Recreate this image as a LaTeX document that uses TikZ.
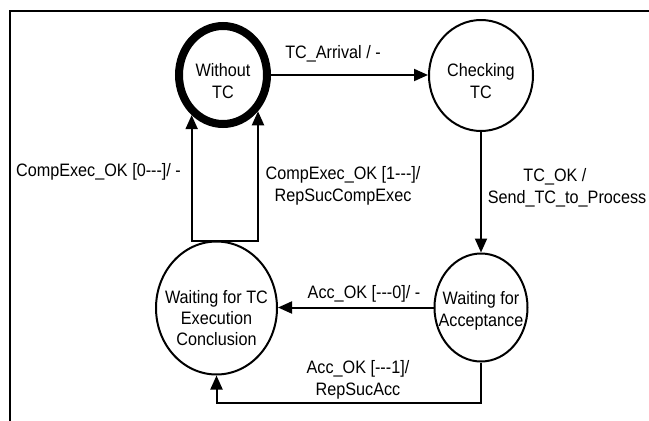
\documentclass[tikz,border=0pt]{standalone}
\usepackage{fontspec}
\setmainfont{Liberation Sans}[FakeStretch=0.9]
\usetikzlibrary{shapes.geometric,arrows.meta}
\begin{document}
\begin{tikzpicture}[x=1pt,y=-1pt,
  txt/.style={font=\fontsize{18}{22}\selectfont, align=center, inner sep=0pt},
  state/.style={ellipse, draw, line width=2pt, inner sep=0pt},
  arr/.style={line width=2pt, -{Triangle[length=14pt,width=12pt]}},
]
\useasboundingbox (0,0) rectangle (649,421);
% frame
\draw[line width=2.5pt] (10,421) -- (10,11) -- (649,11);
% states
\node[state, line width=8pt, minimum width=88pt, minimum height=98pt,
      label={[txt,yshift=-6pt]center:Without\\TC}] (wo) at (223,75) {};
\node[state, minimum width=104pt, minimum height=111pt,
      label={[txt,yshift=-6pt]center:Checking\\TC}] (ck) at (481,75.5) {};
\node[state, minimum width=93pt, minimum height=108pt,
      label={[txt,yshift=-3pt]center:Waiting for\\Acceptance}] (wa) at (481,307.5) {};
\node[state, minimum width=121pt, minimum height=133pt,
      label={[txt,font=\fontsize{18}{21}\selectfont,yshift=-10pt]center:Waiting for TC\\Execution\\Conclusion}] (we) at (216.5,308) {};
% connectors
\coordinate (bl) at (0,403);
\draw[arr] (wo.east) -- (wo.east -| ck.west);
\draw[arr] (ck.south) -- (wa.north);
\draw[arr] (wa.west) -- (wa.west -| we.east);
\draw[arr] (wa.south) |- (bl -| we.south) -- (we.south);
\draw[arr] (we.north) -- (we.north -| wo.232) -- (wo.232);
\draw[arr] (we.north) -- (we.north -| wo.314) -- (wo.314);
% labels
\node[txt] (l1) at (333,53.5) {TC\_Arrival / -};
\node[txt] (l2) at (98.5,171.5) {CompExec\_OK [0-{}-{}-]/ -};
\node[txt] (l3) at (343,185.5) {CompExec\_OK [1-{}-{}-]/\\RepSucCompExec};
\node[txt] (l4) at (567,187.5) {TC\_OK /\hspace*{24pt}\\Send\_TC\_to\_Process};
\node[txt] (l5) at (364,293.5) {Acc\_OK [-{}-{}-0]/ -};
\node[txt] (l6) at (358,380) {Acc\_OK [-{}-{}-1]/\\RepSucAcc};
\end{tikzpicture}
\end{document}
